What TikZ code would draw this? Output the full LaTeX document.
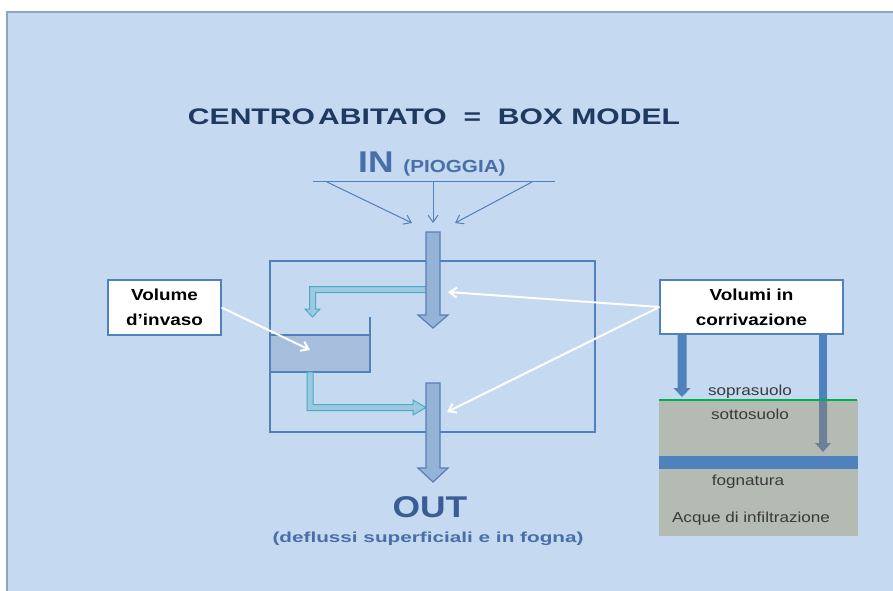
\documentclass[tikz,border=0pt]{standalone}
\usepackage{fontspec}
\usepackage{graphicx}
\setmainfont{Liberation Sans}[FakeStretch=1.18]
\usetikzlibrary{arrows.meta}
\definecolor{panel}{HTML}{C5D9F1}
\definecolor{panelline}{HTML}{8EA6C6}
\definecolor{lineblue}{HTML}{4F81BD}
\definecolor{pipefill}{HTML}{95B3D7}
\definecolor{pipeedge}{HTML}{5A7EB4}
\definecolor{resfill}{HTML}{A6BDDB}
\definecolor{tealc}{HTML}{4BACC6}
\definecolor{tealfill}{HTML}{9CC9E0}
\definecolor{soil}{HTML}{B4BBB3}
\definecolor{soilarrow}{HTML}{6C8198}
\definecolor{grn}{HTML}{00B050}
\definecolor{titlecol}{HTML}{1F3A5F}
\definecolor{incol}{HTML}{4A6EA8}
\definecolor{outcol}{HTML}{3B5D96}
\definecolor{soiltxt}{HTML}{3A3A3A}

\begin{document}
\begin{tikzpicture}[x=1pt,y=-1pt,>={Straight Barb[length=7pt,width=10pt]},
  callout/.style={draw=lineblue,line width=1.2pt,fill=white,align=center,
    inner sep=0pt,font=\bfseries\fontsize{16}{25}\selectfont},
  pointer/.style={->,white,line width=2pt},
  pipe/.style={fill=pipefill,draw=pipeedge,line width=1.2pt},
  flow/.style={fill=tealfill,draw=tealc,line width=1pt},
  soiltext/.style={anchor=base,inner sep=0pt,text=soiltxt,
    font=\fontsize{14.5}{14.5}\selectfont}]
  \useasboundingbox (0,0) rectangle (893,590);
  \fill[white] (0,0) rectangle (893,590);
  \filldraw[fill=panel,draw=panelline,line width=1.5pt] (7,12) rectangle (900,600);

  % titles
  \node[anchor=base,inner sep=0pt,text=titlecol,font=\bfseries\fontsize{22.5}{22.5}\selectfont]
    (title) at (434,124) {\resizebox{492pt}{\height}{CENTRO\hspace{-.2em} ABITATO\ \ =\ \ BOX MODEL}};
  \node[anchor=base west,inner sep=0pt,text=incol,font=\bfseries\fontsize{30}{30}\selectfont]
    (in) at (358,172) {IN {\fontsize{17.5}{17.5}\selectfont (PIOGGIA)}};

  % rain
  \draw[lineblue,line width=1pt] (313,181) -- (555,181);
  \foreach \a/\b in {327/412,433/433,532/455}
    \draw[->,lineblue,line width=1pt] (\a,182) -- (\b,223);

  % box model
  \draw[lineblue,line width=2.5pt] (270,261) rectangle (595,432);
  \filldraw[fill=resfill,draw=lineblue,line width=1.5pt] (270,335) rectangle (370,372);
  \draw[lineblue,line width=2.5pt] (370,317) -- (370,336);
  \filldraw[flow] (428,286.5) -- (309.5,286.5) -- (309.5,309) -- (305,309) -- (312.5,317)
    -- (320,309) -- (315.5,309) -- (315.5,292.5) -- (428,292.5) -- cycle;
  \filldraw[flow] (307,372) -- (307,410.5) -- (413,410.5) -- (413,415) -- (426,407.5)
    -- (413,400) -- (413,404.5) -- (313,404.5) -- (313,372) -- cycle;
  \foreach \t/\h/\e in {232/315/328,383/468/482}
    \filldraw[pipe] (426,\t) -- (426,\h) -- (418,\h) -- (433,\e) -- (448,\h)
      -- (440,\h) -- (440,\t) -- cycle;

  \node[anchor=base,inner sep=0pt,text=outcol,font=\bfseries\fontsize{30}{30}\selectfont]
    (out) at (430,517) {OUT};
  \node[anchor=base,inner sep=0pt,text=incol,font=\bfseries\fontsize{14.5}{14.5}\selectfont]
    (defl) at (428,542) {\resizebox{311pt}{\height}{(deflussi superficiali e in fogna)}};

  % soil column
  \fill[soil] (659,400) rectangle (858,536);
  \fill[lineblue] (659,456) rectangle (858,469);
  \fill[lineblue] (677.5,334) -- (677.5,388) -- (673.5,388) -- (682,397) -- (690.5,388)
    -- (686.5,388) -- (686.5,334) -- cycle;
  \fill[soilarrow] (819,400) -- (819,443) -- (815,443) -- (823,452) -- (831,443)
    -- (827,443) -- (827,400) -- cycle;
  \fill[lineblue] (819,334) rectangle (827,400);
  \draw[grn,line width=1.5pt] (659,400) -- (857,400);
  \node[soiltext] (sopra) at (750,395) {soprasuolo};
  \node[soiltext] (sotto) at (750,419) {sottosuolo};
  \node[soiltext] (fogna) at (748,485) {fognatura};
  \node[soiltext] (acque) at (751,522) {Acque di infiltrazione};

  % callouts
  \node[callout,minimum width=113pt,minimum height=55pt] (invaso) at (164.5,307.5) {Volume\\d’invaso};
  \node[callout,minimum width=183pt,minimum height=54pt] (corriv) at (751.5,307) {Volumi in\\corrivazione};
  \coordinate (resv) at (310,350);
  \coordinate (pin) at (448,292);
  \coordinate (pout) at (447,412);
  \draw[pointer] (invaso.east) -- (resv);
  \draw[pointer] (corriv.west) -- (pin);
  \draw[pointer] (corriv.west) -- (pout);
\end{tikzpicture}
\end{document}
